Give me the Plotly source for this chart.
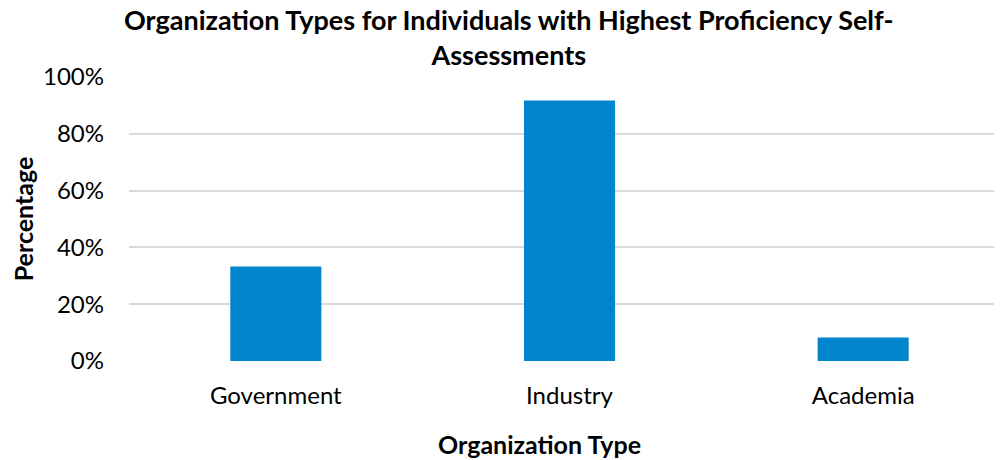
import plotly.graph_objects as go

# Data
org_types = ["Government", "Industry", "Academia"]
percentages = [33.3, 91.7, 8.3]
tick_values = [0, 20, 40, 60, 80, 100]
tick_labels = ["0%", "20%", "40%", "60%", "80%", "100%"]

FONT = "Lato, Calibri, Carlito, sans-serif"
TITLE = "<b>Organization Types for Individuals with Highest Proficiency Self-<br>Assessments</b>"

trace = go.Bar(x=org_types, y=percentages,
               marker=dict(color="#0084CB", line=dict(width=0)),
               hoverinfo="x+y")

layout = go.Layout(
    width=1002, height=460,
    paper_bgcolor="white", plot_bgcolor="white",
    font=dict(family=FONT, size=24, color="#000000"),
    margin=dict(l=121, r=0, t=69, b=107),
    bargap=0.69,
    showlegend=False,
    xaxis=dict(range=[-0.5, 2.5], showgrid=False, zeroline=False,
               showline=False, ticks="", tickfont=dict(size=24),
               ticklabelstandoff=18, automargin=False),
    yaxis=dict(range=[0, 100], tickvals=tick_values, ticktext=tick_labels,
               showgrid=True, gridcolor="#D9D9D9", gridwidth=1.5,
               zeroline=False, showline=False, ticks="", automargin=False,
               tickfont=dict(size=24, color="#000000"), ticklabelstandoff=24,
               title=dict(text="<b>Percentage</b>", font=dict(size=25), standoff=8)),
)

fig = go.Figure(data=[trace], layout=layout)

# two-line chart title, placed as an annotation so it is not clipped
fig.add_annotation(text=TITLE, xref="paper", yref="paper", x=0.431, y=1,
                   xanchor="center", yanchor="middle", yshift=40,
                   height=62, valign="middle", borderpad=0,
                   showarrow=False, font=dict(size=27, family=FONT))

# x axis title (off-centre in the original)
fig.add_annotation(text="<b>Organization Type</b>", xref="paper", yref="paper",
                   x=0.4665, y=0, xanchor="center", yanchor="middle", yshift=-83,
                   showarrow=False, font=dict(size=25, family=FONT))

fig.write_html("out.html")
